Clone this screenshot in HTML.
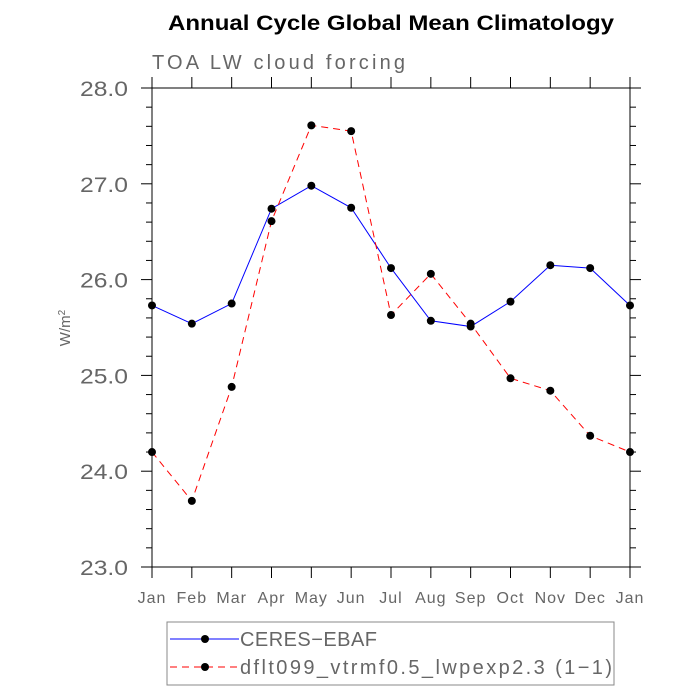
<!DOCTYPE html>
<html><head><meta charset="utf-8"><style>body{margin:0;background:#fff}svg{display:block}</style></head>
<body>
<svg id="c" width="700" height="700" xmlns="http://www.w3.org/2000/svg" font-family="Liberation Sans, sans-serif">
<text x="168" y="30" textLength="446" lengthAdjust="spacingAndGlyphs" font-size="21" font-weight="bold">Annual Cycle Global Mean Climatology</text>
<text x="152" y="69" textLength="253" lengthAdjust="spacing" font-size="20" fill="#666">TOA LW cloud forcing</text>
<text transform="translate(70,328) rotate(-90)" text-anchor="middle" font-size="15" fill="#666">W/m<tspan dy="-5" font-size="10">2</tspan></text>
<g id="axes"></g>
<g id="series"></g>
<rect x="167" y="622" width="447" height="63" fill="none" stroke="#888" stroke-width="1"/>
<g>
<line x1="170" y1="639" x2="239" y2="639" stroke="#00f" stroke-width="1"/><circle cx="205" cy="639" r="4" fill="#000"/>
<text x="240" y="646" textLength="137" lengthAdjust="spacing" font-size="20" fill="#666">CERES−EBAF</text></g>
<g>
<line x1="170" y1="667" x2="239" y2="667" stroke="#f00" stroke-width="1" stroke-dasharray="7,5"/><circle cx="205" cy="667" r="4" fill="#000"/>
<text x="240" y="674" textLength="372" lengthAdjust="spacing" font-size="20" fill="#666">dflt099_vtrmf0.5_lwpexp2.3 (1−1)</text></g>
</svg>
<script>
const months=["Jan","Feb","Mar","Apr","May","Jun","Jul","Aug","Sep","Oct","Nov","Dec","Jan"];
const ceres=[25.73,25.54,25.75,26.74,26.98,26.75,26.12,25.57,25.51,25.77,26.15,26.12,25.73];
const model=[24.20,23.69,24.88,26.61,27.61,27.55,25.63,26.06,25.54,24.97,24.84,24.37,24.20];
const yTicks=[23,24,25,26,27,28];
const yTickLabels=["23.0","24.0","25.0","26.0","27.0","28.0"];
const L=152,R=630,T=88,B=567,ymin=23,ymax=28;
const xs=i=>L+(R-L)*i/(months.length-1);
const ys=v=>B-(v-ymin)/(ymax-ymin)*(B-T);
const NS="http://www.w3.org/2000/svg";
function mk(tag,at,parent){const e=document.createElementNS(NS,tag);for(const k in at)e.setAttribute(k,at[k]);parent.appendChild(e);return e;}
const ax=document.getElementById('axes');
const frame=mk('rect',{x:L,y:T,width:R-L,height:B-T,fill:'none',stroke:'#000','stroke-width':1},ax);


months.forEach((m,i)=>{const x=xs(i);
mk('line',{x1:x,y1:B,x2:x,y2:B+11,stroke:'#000'},ax);
mk('line',{x1:x,y1:T,x2:x,y2:T-11,stroke:'#000'},ax);
const t=mk('text',{x:x,y:B+36,'text-anchor':'middle','font-size':16,'letter-spacing':1,fill:'#666'},ax);t.textContent=m;

});
yTicks.forEach((v,i)=>{const y=ys(v);
mk('line',{x1:L,y1:y,x2:L-11,y2:y,stroke:'#000'},ax);
mk('line',{x1:R,y1:y,x2:R+11,y2:y,stroke:'#000'},ax);
const t=mk('text',{x:80,y:y+8,textLength:48,lengthAdjust:'spacingAndGlyphs','font-size':21,fill:'#666'},ax);t.textContent=yTickLabels[i];


if(i<yTicks.length-1)for(let k=1;k<5;k++){const yy=ys(v+k*0.2);
mk('line',{x1:L,y1:yy,x2:L-6,y2:yy,stroke:'#000'},ax);
mk('line',{x1:R,y1:yy,x2:R+6,y2:yy,stroke:'#000'},ax);}});
const sg=document.getElementById('series');
function draw(vals,color,dash,name){
const g=mk('g',{},sg);


const p=mk('polyline',{points:vals.map((v,i)=>xs(i)+','+ys(v)).join(' '),fill:'none',stroke:color,'stroke-width':1},g);
if(dash)p.setAttribute('stroke-dasharray',dash);
vals.forEach((v,i)=>{const c=mk('circle',{cx:xs(i),cy:ys(v),r:4,fill:'#000'},g);

});}
draw(ceres,'#00f',null,'ceres-series');
draw(model,'#f00','7,5','model-series');
</script>
</body></html>
